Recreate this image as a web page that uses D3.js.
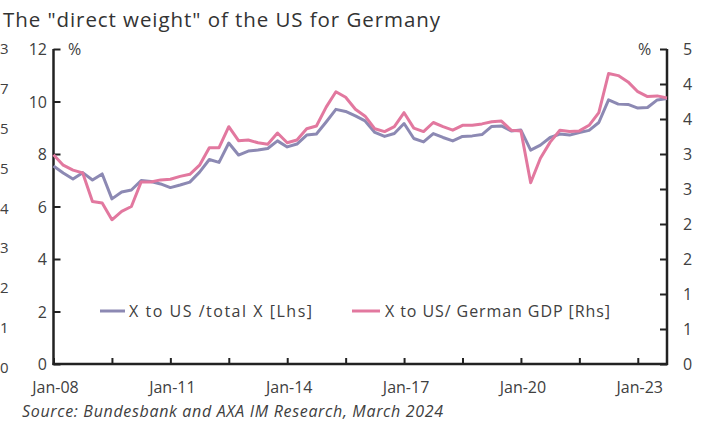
<!DOCTYPE html>
<html><head><meta charset="utf-8">
<script src="https://cdn.jsdelivr.net/npm/d3@7"></script>
<style>
body{margin:0;background:#fff;}
svg{display:block;font-family:"Open Sans","Noto Sans",sans-serif;}
</style></head>
<body><svg id="c" width="707" height="430"></svg>
<script>
// quarterly data, Q1 2008 .. Q4 2023
const startYear = 2008;
const shareOfExports = [7.54,7.28,7.05,7.29,7.01,7.24,6.29,6.55,6.63,6.99,6.95,6.86,6.72,6.82,6.93,7.31,
7.79,7.68,8.42,7.96,8.11,8.15,8.21,8.50,8.27,8.38,8.72,8.76,9.22,9.70,9.62,9.45,
9.26,8.82,8.67,8.78,9.16,8.59,8.46,8.78,8.63,8.50,8.67,8.69,8.74,9.05,9.07,8.88,
8.91,8.15,8.34,8.63,8.76,8.72,8.82,8.90,9.20,10.06,9.90,9.89,9.75,9.77,10.06,10.11];
const shareOfGDP = [2.99,2.84,2.77,2.73,2.32,2.30,2.06,2.18,2.25,2.60,2.60,2.63,2.64,2.68,2.71,2.84,
3.09,3.09,3.39,3.19,3.20,3.16,3.14,3.30,3.16,3.20,3.36,3.40,3.67,3.89,3.81,3.64,
3.54,3.36,3.32,3.39,3.59,3.37,3.32,3.45,3.39,3.34,3.41,3.41,3.43,3.46,3.47,3.34,
3.33,2.59,2.94,3.17,3.34,3.32,3.33,3.41,3.59,4.15,4.12,4.03,3.89,3.82,3.83,3.80];
const leftTicks = [0,2,4,6,8,10,12];
const rightTicks = [0,0.5,1,1.5,2,2.5,3,3.5,4,4.5];
const edgeLabels = ["3","7","5","5","4","3","2","1","0"]; // cropped neighbour axis
const seriesNames = ["X to US /total X [Lhs]","X to US/ German GDP [Rhs]"];
const colors = ["#8c89b3","#e2789f"];
const title = 'The "direct weight" of the US for Germany';
const source = "Source: Bundesbank and AXA IM Research, March 2024";

const mon = ["Jan","Apr","Jul","Oct"];
const cats = shareOfExports.map((d,i)=> mon[i%4] + "-" + String((startYear + Math.floor(i/4))%100).padStart(2,"0"));

const svg = d3.select("#c");
const L = 53.5, R = 667, T = 49, B = 364;
const textCol = "#404040";
const x = d3.scalePoint().domain(cats).range([L,R]);
const yL = d3.scaleLinear().domain([0,12]).range([B,T]);
const yR = d3.scaleLinear().domain([0,4.5]).range([B,T]);

svg.append("text").attr("x",3).attr("y",27).attr("font-size",20.5).attr("fill","#333")
  .attr("textLength",437).attr("lengthAdjust","spacing").text(title);

// cropped edge labels
const ye = d3.scaleLinear().domain([0,edgeLabels.length-1]).range([49,368]);
svg.append("g").selectAll("text").data(edgeLabels).join("text")
  .attr("x",0).attr("y",(d,i)=>ye(i)+5).attr("font-size",15).attr("fill",textCol).text(d=>d);

// left axis
const gl = svg.append("g").attr("transform",`translate(${L},0)`)
  .call(d3.axisRight(yL).tickValues(leftTicks).tickSize(7).tickFormat(""));
gl.select(".domain").remove();
gl.selectAll(".tick line").attr("stroke","#222").attr("stroke-width",2);
svg.append("g").selectAll("text").data(leftTicks).join("text")
  .attr("x",47).attr("y",d=>yL(d)+6).attr("text-anchor","end").attr("font-size",16).attr("fill",textCol).text(d=>d);

// right axis
const gr = svg.append("g").attr("transform",`translate(${R},0)`)
  .call(d3.axisLeft(yR).tickValues(rightTicks).tickSize(7).tickFormat(""));
gr.select(".domain").remove();
gr.selectAll(".tick line").attr("stroke","#222").attr("stroke-width",2);
svg.append("g").selectAll("text").data(rightTicks).join("text")
  .attr("x",683).attr("y",d=>yR(d)+6).attr("font-size",16).attr("fill",textCol).text(d=>Math.round(d));

// x axis
const tickCats = cats.filter((d,i)=>i%6===0);
const gx = svg.append("g").attr("transform",`translate(0,${B})`)
  .call(d3.axisTop(x).tickValues(tickCats).tickSize(6).tickFormat(""));
gx.select(".domain").remove();
gx.selectAll(".tick line").attr("stroke","#222").attr("stroke-width",2);
const labCats = cats.filter((d,i)=>i%12===0);
svg.append("g").selectAll("text").data(labCats).join("text")
  .attr("x",d=>x(d)+2).attr("y",393).attr("text-anchor","middle").attr("font-size",16).attr("fill",textCol).text(d=>d);

// axis lines
svg.append("line").attr("x1",L).attr("x2",L).attr("y1",T).attr("y2",B+1).attr("stroke","#222").attr("stroke-width",2.5);
svg.append("line").attr("x1",R).attr("x2",R).attr("y1",T).attr("y2",B+1).attr("stroke","#222").attr("stroke-width",2.5);
svg.append("line").attr("x1",L-1).attr("x2",R+1).attr("y1",B).attr("y2",B).attr("stroke","#222").attr("stroke-width",2.5);

svg.append("text").attr("x",68).attr("y",55).attr("font-size",16).attr("fill",textCol).text("%");
svg.append("text").attr("x",638).attr("y",55).attr("font-size",16).attr("fill",textCol).text("%");

// lines
const line1 = d3.line().x((d,i)=>x(cats[i])).y(d=>yL(d));
const line2 = d3.line().x((d,i)=>x(cats[i])).y(d=>yR(d));
svg.append("path").datum(shareOfExports).attr("d",line1).attr("fill","none")
  .attr("stroke",colors[0]).attr("stroke-width",3).attr("stroke-linejoin","round");
svg.append("path").datum(shareOfGDP).attr("d",line2).attr("fill","none")
  .attr("stroke",colors[1]).attr("stroke-width",3).attr("stroke-linejoin","round");

// legend
const leg = [{x1:100,x2:125,tx:129,w:183},{x1:352,x2:380,tx:385,w:225}];
leg.forEach((l,i)=>{
  svg.append("line").attr("x1",l.x1).attr("x2",l.x2).attr("y1",311).attr("y2",311)
    .attr("stroke",colors[i]).attr("stroke-width",3);
  svg.append("text").attr("x",l.tx).attr("y",317).attr("font-size",16).attr("fill",textCol)
    .attr("textLength",l.w).attr("lengthAdjust","spacing").text(seriesNames[i]);
});

svg.append("text").attr("x",22).attr("y",417).attr("font-size",16).attr("font-style","italic").attr("fill",textCol)
  .attr("textLength",421).attr("lengthAdjust","spacing").text(source);
</script></body></html>
